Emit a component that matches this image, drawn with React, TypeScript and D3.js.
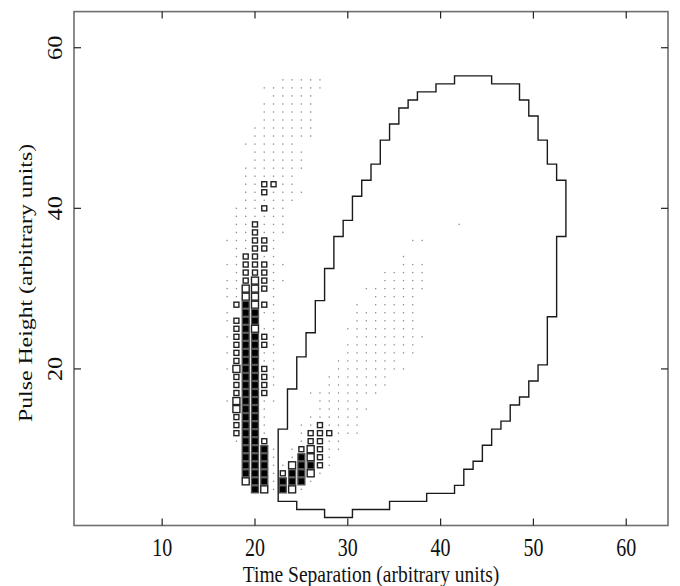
import React from "react";
import * as d3 from "d3";

// Axis ticks
const X_TICKS = [10, 20, 30, 40, 50, 60];
const Y_TICKS = [20, 40, 60];
const X_TITLE = "Time Separation (arbitrary units)";
const Y_TITLE = "Pulse Height (arbitrary units)";

// Cell levels: '.' tiny count, 'o' small box, 'O' large box, '#' full (filled) box
const LEVEL_VALUE: Record<string, number> = { ".": 1, o: 4, O: 8, "#": 12 };

// Rows of the 2-D histogram: [y bin, [[first x bin, pattern], ...]]
const CELL_ROWS: [number, [number, string][]][] = [
  [56, [[23, "....."]]],
  [55, [[21, "......."]]],
  [54, [[22, "....."]]],
  [53, [[21, "......"]]],
  [52, [[21, "......"]]],
  [51, [[21, "......"]]],
  [50, [[20, "......."]]],
  [49, [[20, "......."]]],
  [48, [[19, "......"]]],
  [47, [[20, "......"]]],
  [46, [[20, "......"]]],
  [45, [[19, "......."]]],
  [44, [[19, "......"]]],
  [43, [[19, "..oo.."]]],
  [42, [[19, "..o...."]]],
  [41, [[19, "......"]]],
  [40, [[18, "...o.."]]],
  [39, [[18, "......"]]],
  [38, [[18, "..o..."], [42, "."]]],
  [37, [[18, "..o..."]]],
  [36, [[17, "...oo."], [37, ".."]]],
  [35, [[18, "..oo."]]],
  [34, [[18, ".oo.."], [36, "."]]],
  [33, [[17, "..ooo.."], [36, "..."]]],
  [32, [[18, ".ooo."], [34, "....."]]],
  [31, [[17, "..oOo.."], [34, "....."]]],
  [30, [[17, "..OOo."], [32, "......."]]],
  [29, [[17, "..OO ."], [33, "....."]]],
  [28, [[18, "o#Oo."], [31, ". ....."]]],
  [27, [[17, ". ##.."], [31, "......."]]],
  [26, [[17, ".o## ."], [31, "......."]]],
  [25, [[18, "o#O.."], [30, "........"]]],
  [24, [[17, ".o##o."], [31, "........"]]],
  [23, [[18, "o##o."], [30, "........"]]],
  [22, [[17, ".o##.."], [30, "........"]]],
  [21, [[18, "o##.."], [29, "......."]]],
  [20, [[17, ".O##o."], [29, "........"]]],
  [19, [[18, "o##o."], [28, "......."]]],
  [18, [[18, "o##o."], [28, "......."]]],
  [17, [[18, "o##o"], [26, "........"]]],
  [16, [[17, ".O##.."], [27, "....."]]],
  [15, [[18, "O##."], [27, "......"]]],
  [14, [[18, "o##."], [26, "......"]]],
  [13, [[18, "o##."], [25, "..o...."]]],
  [12, [[18, "o##."], [25, ".ooo..."]]],
  [11, [[18, ".##o"], [25, ".oo.."]]],
  [10, [[19, "###. .oOo.."]]],
  [9, [[19, "###. .#Oo."]]],
  [8, [[19, "###..O##o."]]],
  [7, [[19, "###.o##O."]]],
  [6, [[19, "O##.###."]]],
  [5, [[20, "#O.#O."]]],
];

// Outline of the selection region (bin edges)
const CONTOUR: [number, number][] = [
  [22.5, 3.5], [22.5, 12.5], [23.5, 12.5], [23.5, 17.5], [24.5, 17.5], [24.5, 21.5],
  [25.5, 21.5], [25.5, 24.5], [26.5, 24.5], [26.5, 28.5], [27.5, 28.5], [27.5, 32.5],
  [28.5, 32.5], [28.5, 36.5], [29.5, 36.5], [29.5, 38.5], [30.5, 38.5], [30.5, 41.5],
  [31.5, 41.5], [31.5, 43.5], [32.5, 43.5], [32.5, 45.5], [33.5, 45.5], [33.5, 48.5],
  [34.5, 48.5], [34.5, 50.5], [35.5, 50.5], [35.5, 52.5], [36.5, 52.5], [36.5, 53.5],
  [37.5, 53.5], [37.5, 54.5], [39.5, 54.5], [39.5, 55.5], [41.5, 55.5], [41.5, 56.5],
  [45.5, 56.5], [45.5, 55.5], [48.5, 55.5], [48.5, 53.5], [49.5, 53.5], [49.5, 51.5],
  [50.5, 51.5], [50.5, 48.5], [51.5, 48.5], [51.5, 45.5], [52.5, 45.5], [52.5, 43.5],
  [53.5, 43.5], [53.5, 36.5], [52.5, 36.5], [52.5, 26.5], [51.5, 26.5], [51.5, 20.5],
  [50.5, 20.5], [50.5, 18.5], [49.5, 18.5], [49.5, 16.5], [48.5, 16.5], [48.5, 15.5],
  [47.5, 15.5], [47.5, 13.5], [46.5, 13.5], [46.5, 12.5], [45.5, 12.5], [45.5, 10.5],
  [44.5, 10.5], [44.5, 8.5], [43.5, 8.5], [43.5, 7.5], [42.5, 7.5], [42.5, 5.5],
  [41.5, 5.5], [41.5, 4.5], [38.5, 4.5], [38.5, 3.5], [34.5, 3.5], [34.5, 2.5],
  [30.5, 2.5], [30.5, 1.5], [27.5, 1.5], [27.5, 2.5], [24.5, 2.5], [24.5, 3.5],
];

const W = 680;
const H = 586;
const M = { left: 74, right: 668, top: 11.6, bottom: 525.5 };
const FONT = "'Liberation Serif', 'Times New Roman', serif";
const STRETCH = 1.22; // glyphs in the source are taller than wide

export default function App() {
  const x = d3.scaleLinear().domain([0.5, 64.5]).range([M.left, M.right]);
  const y = d3.scaleLinear().domain([0.5, 64.5]).range([M.bottom, M.top]);
  const size = d3.scaleThreshold<number, number>().domain([2, 6, 10]).range([1.3, 5, 7, 7]);

  const cells: { cx: number; cy: number; v: number }[] = [];
  CELL_ROWS.forEach(([yb, runs]) => {
    runs.forEach(([x0, pat]) => {
      pat.split("").forEach((ch, i) => {
        if (LEVEL_VALUE[ch]) cells.push({ cx: x0 + i, cy: yb, v: LEVEL_VALUE[ch] });
      });
    });
  });

  const line = d3
    .line<[number, number]>()
    .x((d) => x(d[0]))
    .y((d) => y(d[1]));
  const contourPath = line(CONTOUR) + "Z";

  const tickLen = 7;

  return (
    <svg width={W} height={H} style={{ position: "absolute", left: 0, top: 0, background: "#fff" }}>
      <rect x={0} y={0} width={W} height={H} fill="#fff" />
      {/* cells */}
      {cells.map((c, i) => {
        const s = size(c.v);
        const px = x(c.cx);
        const py = y(c.cy);
        if (c.v === 1) {
          return <rect key={i} x={px - s / 2} y={py - s / 2} width={s} height={s} fill="#8a8a8a" />;
        }
        if (c.v >= 10) {
          return (
            <rect key={i} x={px - s / 2} y={py - s / 2} width={s} height={s} fill="#000" stroke="#555" strokeWidth={1.3} />
          );
        }
        return (
          <rect key={i} x={px - s / 2} y={py - s / 2} width={s} height={s} fill="#fff" stroke="#222" strokeWidth={1.4} />
        );
      })}
      {/* contour */}
      <path d={contourPath} fill="none" stroke="#1a1a1a" strokeWidth={1.4} />
      {/* frame */}
      <rect
        x={M.left}
        y={M.top}
        width={M.right - M.left}
        height={M.bottom - M.top}
        fill="none"
        stroke="#6e6e6e"
        strokeWidth={1.6}
      />
      {/* ticks */}
      {X_TICKS.map((t) => (
        <g key={"xt" + t}>
          <line x1={x(t)} x2={x(t)} y1={M.bottom} y2={M.bottom - tickLen} stroke="#222" strokeWidth={1.2} />
          <line x1={x(t)} x2={x(t)} y1={M.top} y2={M.top + tickLen} stroke="#222" strokeWidth={1.2} />
          <text
            transform={`translate(${x(t)},${556}) scale(1,${STRETCH})`}
            textAnchor="middle"
            fontFamily={FONT}
            fontSize={20}
            fill="#111"
          >
            {t}
          </text>
        </g>
      ))}
      {Y_TICKS.map((t) => (
        <g key={"yt" + t}>
          <line x1={M.left} x2={M.left + tickLen} y1={y(t)} y2={y(t)} stroke="#222" strokeWidth={1.2} />
          <line x1={M.right} x2={M.right - tickLen} y1={y(t)} y2={y(t)} stroke="#222" strokeWidth={1.2} />
          <text
            transform={`translate(${62},${y(t)}) scale(1,${STRETCH}) rotate(-90)`}
            textAnchor="middle"
            fontFamily={FONT}
            fontSize={20}
            fill="#111"
          >
            {t}
          </text>
        </g>
      ))}
      <text
        transform={`translate(${(M.left + M.right) / 2},${582}) scale(1,${STRETCH})`}
        textAnchor="middle"
        fontFamily={FONT}
        fontSize={19.5}
        fill="#111"
      >
        {X_TITLE}
      </text>
      <text
        transform={`translate(${32},${283}) scale(1,${STRETCH}) rotate(-90)`}
        textAnchor="middle"
        fontFamily={FONT}
        fontSize={19.5}
        fill="#111"
      >
        {Y_TITLE}
      </text>
    </svg>
  );
}
